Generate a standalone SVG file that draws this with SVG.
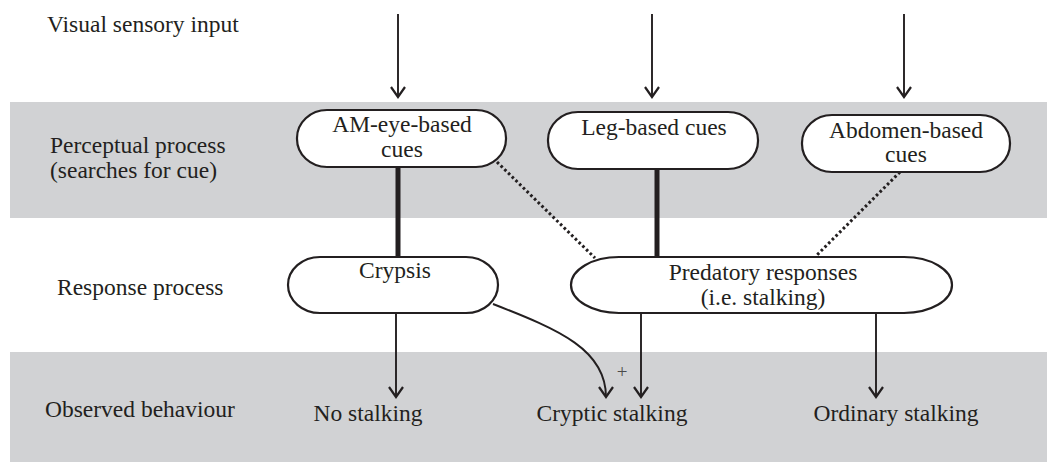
<svg xmlns="http://www.w3.org/2000/svg" width="1047" height="462" viewBox="0 0 1047 462">
<style>
  text { font-family: "Liberation Serif", "Times New Roman", serif; font-size: 23.5px; fill: #231f20; }
  .mid { text-anchor: middle; }
  .band { fill: #d1d2d4; }
  .node { fill: #ffffff; stroke: #231f20; stroke-width: 2.2; }
  .arrow { fill: none; stroke: #231f20; stroke-width: 1.9; marker-end: url(#head); }
  .thick { stroke: #231f20; stroke-width: 5; }
  .dotted { stroke: #231f20; stroke-width: 3; stroke-dasharray: 2.6 2.6; }
  .plus { font-size: 19px; fill: #4a4a4a; }
</style>
<defs>
  <marker id="head" markerUnits="userSpaceOnUse" markerWidth="24" markerHeight="24" viewBox="-12 -12 24 24" refX="0" refY="0" orient="auto">
    <path d="M-10,-7 L0,0 L-10,7" fill="none" stroke="#231f20" stroke-width="2.2"/>
  </marker>
</defs>

<g id="bands">
  <rect class="band" x="10" y="102" width="1037" height="116"/>
  <rect class="band" x="10" y="352" width="1037" height="110"/>
</g>

<g id="row-labels">
  <text x="47" y="32">Visual sensory input</text>
  <text x="50" y="153">Perceptual process</text>
  <text x="50" y="178">(searches for cue)</text>
  <text x="57" y="295">Response process</text>
  <text x="45" y="417">Observed behaviour</text>
</g>

<g id="connectors">
  <line class="arrow" x1="398" y1="14" x2="398" y2="97"/>
  <line class="arrow" x1="652" y1="14" x2="652" y2="97"/>
  <line class="arrow" x1="904" y1="14" x2="904" y2="97"/>
  <line class="thick" x1="398" y1="167" x2="398" y2="257"/>
  <line class="thick" x1="657" y1="169" x2="657" y2="257"/>
  <line class="dotted" x1="497" y1="162" x2="595" y2="258"/>
  <line class="dotted" x1="900" y1="172" x2="817" y2="255"/>
  <line class="arrow" x1="396" y1="313" x2="396" y2="397"/>
  <line class="arrow" x1="641" y1="313" x2="641" y2="397"/>
  <line class="arrow" x1="876" y1="313" x2="876" y2="397"/>
  <path class="arrow" d="M493,304 C560,330 606,350 606,397"/>
  <text class="plus mid" x="622" y="378">+</text>
</g>

<g id="node-am-eye">
  <rect class="node" x="297" y="110" width="209" height="57" rx="30" ry="28"/>
  <text class="mid" x="402" y="132">AM-eye-based</text>
  <text class="mid" x="402" y="157">cues</text>
</g>
<g id="node-leg">
  <rect class="node" x="548" y="112" width="210" height="57" rx="30" ry="28"/>
  <text class="mid" x="654" y="135">Leg-based cues</text>
</g>
<g id="node-abdomen">
  <rect class="node" x="802" y="115" width="208" height="57" rx="30" ry="28"/>
  <text class="mid" x="906" y="138">Abdomen-based</text>
  <text class="mid" x="906" y="162">cues</text>
</g>
<g id="node-crypsis">
  <rect class="node" x="288" y="257" width="210" height="56" rx="32" ry="28"/>
  <text class="mid" x="395" y="278">Crypsis</text>
</g>
<g id="node-predatory">
  <rect class="node" x="571" y="257" width="381" height="56" rx="48" ry="28"/>
  <text class="mid" x="763" y="280">Predatory responses</text>
  <text class="mid" x="763" y="305">(i.e. stalking)</text>
</g>

<g id="outcomes">
  <text class="mid" x="368" y="421">No stalking</text>
  <text class="mid" x="612" y="421">Cryptic stalking</text>
  <text class="mid" x="896" y="421">Ordinary stalking</text>
</g>
</svg>
